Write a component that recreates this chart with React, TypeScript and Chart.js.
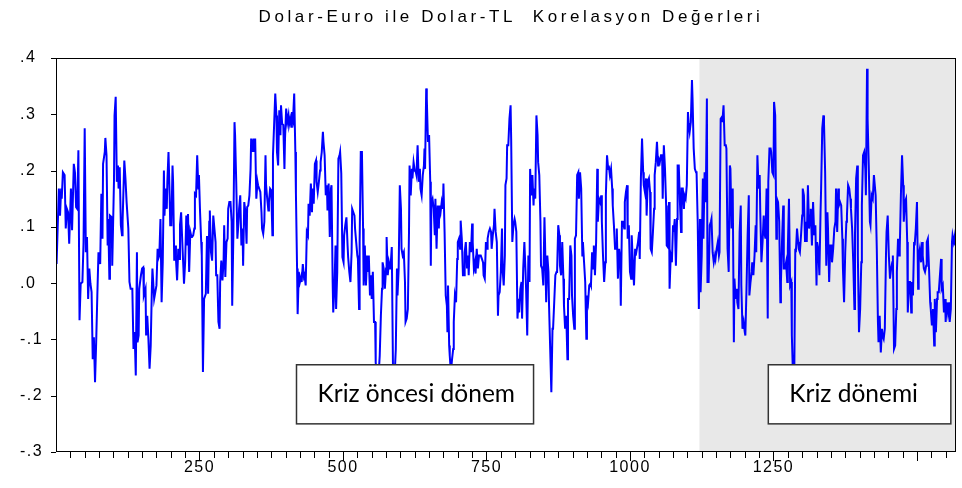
import React, { useEffect, useRef } from 'react';
import { Chart, registerables } from 'chart.js';

Chart.register(...registerables);

// ---- text ----
const TITLE = 'Dolar-Euro ile Dolar-TL  Korelasyon Değerleri';
const PRE_CRISIS_LABEL = 'Kriz öncesi dönem';
const CRISIS_LABEL = 'Kriz dönemi';

// ---- axes ----
const X_MIN = 0;
const X_MAX = 1568;
const X_LABEL_STEP = 250;
const X_MINOR_STEP = 25;
const Y_MIN = -0.3;
const Y_MAX = 0.4;
const Y_STEP = 0.1;

// ---- periods (observation numbers / correlation values) ----
const CRISIS_START_OBS = 1121;
const PRE_CRISIS_BOX = [419, 832, -0.145, -0.25]; // obs from, obs to, value top, value bottom
const CRISIS_BOX = [1241, 1559, -0.145, -0.25];

const seg01: [number, number][] = [[1,.034],[5,.168],[7,.120],[9,.168],[10,.150],[12,.197],[15,.192],[17,.097],[19,.132],[21,.126],[23,.070],[26,.168],[28,.094],[31,.212],[33,.197],[35,.135],[37,.132],[39,.236],[41,-.066],[43,-.001],[46,.002],[48,.073],[50,.275],[52,.055],[54,.082],[56,-.028],[58,.026],[60,-.001],[62,-.016],[64,-.135],[66,-.096],[68,-.176],[70,-.105],[72,-.022],[74,.055],[75,.049],[77,.034],[79,.159],[81,.079],[82,.212],[85,.233],[86,.258],[88,.227],[90,.067],[91,.114],[93,.008],[94,.120],[97,.117],[98,.031],[101,.180],[102,.298],[104,.331],[106,.180],[108,.209],[109,.168],[111,.206],[113,.103],[115,.085],[116,.109],[119,.218],[121,.186],[123,.144],[126,.097],[128,.002],[130,-.010]];
const seg02: [number, number][] = [[133,-.010],[135,-.117],[137,-.087],[139,-.164],[141,.055],[142,-.105],[144,-.093],[145,-.010],[148,.014],[150,.026],[152,.028],[153,-.022],[156,-.010],[157,-.093],[159,-.058],[161,-.099],[163,-.152],[165,-.111],[167,-.010],[168,.026],[171,-.028],[172,-.028],[175,-.004],[177,.061],[178,.043],[180,.049],[182,.114],[184,-.034],[186,.037],[188,.200],[189,.120],[191,.168],[193,.132],[194,.180],[196,.233],[198,.156],[199,.103],[201,.103],[203,.209],[204,.180],[206,.040],[208,.067],[209,.043],[211,.005],[213,.061],[215,.043],[216,.103],[218,.126],[220,.073],[222,.026],[223,-.001],[225,.037],[227,.120],[229,.067],[230,.123],[232,.020],[234,.091],[236,.082],[237,.082],[239,.085],[241,.097],[242,.159],[244,.156],[246,.227],[248,.168],[249,.192],[251,.126],[253,.073],[254,.049],[256,-.158],[258,-.028],[259,-.028],[261,-.019],[263,.082]];
const seg03: [number, number][] = [[264,.082],[265,-.019],[267,.109],[268,.129],[270,.055],[272,.040],[274,.120],[275,.120],[278,.073],[279,.014],[281,.014],[283,-.069],[285,-.081],[286,.002],[288,.040],[290,.005],[292,.040],[293,.103],[295,.011],[297,.073],[299,.079],[300,.132],[302,.144],[304,.144],[306,.109],[307,-.040],[309,.085],[311,.286],[312,.263],[314,.180],[316,.079],[318,.109],[319,.132],[321,.156],[323,.067],[325,.097],[326,.031],[328,.144],[330,.126],[332,.070],[333,.135],[335,.138],[337,.156],[339,.203],[340,.257],[342,.233],[344,.257],[345,.233],[347,.257],[349,.150],[351,.180],[352,.174],[354,.168],[356,.162],[358,.126],[359,.097],[361,.088],[363,.109],[365,.227],[366,.174],[368,.150],[370,.129],[371,.144],[373,.168],[375,.165],[377,.085],[378,.227],[380,.281],[382,.337],[384,.298],[385,.233],[387,.209],[389,.307],[391,.263],[392,.316],[394,.283]];
const seg04: [number, number][] = [[396,.281],[398,.203],[399,.257],[401,.310],[403,.286],[405,.298],[406,.281],[408,.292],[410,.278],[411,.304],[413,.292],[415,.337],[417,.233],[418,.159],[420,.026],[421,-.055],[423,.020],[425,.002],[427,.011],[428,.002],[430,.034],[432,.011],[433,.014],[435,-.004],[437,.091],[439,.085],[440,.141],[442,.120],[444,.177],[446,.126],[447,.168],[449,.141],[451,.212],[453,.218],[454,.180],[456,.162],[458,.180],[460,.200],[461,.215],[463,.233],[465,.269],[466,.251],[468,.227],[470,.156],[472,.174],[473,.129],[475,.177],[477,.082],[479,.168],[480,.174],[482,.002],[483,-.052],[485,-.010],[487,.067],[488,-.046],[490,.020],[492,.221],[494,.227],[495,.233],[497,.195],[499,.046],[501,.037],[502,.085],[504,.103],[506,.117],[508,.067],[509,.046],[511,.020],[513,.002],[515,.055],[516,.132],[518,.126],[520,.120],[521,.097],[523,.073],[525,.049]];
const seg05: [number, number][] = [[526,.043],[528,-.046],[529,.073],[531,.233],[533,.233],[535,.097],[536,-.004],[538,.067],[540,-.004],[542,.049],[543,.020],[545,.049],[547,-.022],[549,.014],[550,-.028],[552,.020],[554,-.069],[556,-.069],[557,-.141],[559,-.164],[561,-.182],[562,-.164],[564,-.129],[566,-.058],[568,-.010],[569,.037],[571,.026],[573,-.010],[575,.026],[576,.082],[578,.014],[580,.037],[582,.026],[583,.031],[585,.064],[587,-.141],[588,-.188],[590,-.164],[592,-.117],[594,.026],[595,-.022],[597,.026],[599,.174],[601,.132],[602,.061],[604,.049],[606,.055],[608,.002],[609,-.069],[611,-.063],[613,-.046],[615,.091],[616,.209],[618,.156],[620,.203],[621,.186],[623,.215],[625,.200],[627,.197],[628,.192],[630,.245],[632,.180],[634,.203],[635,.168],[637,.156],[639,.192],[641,.209],[642,.239],[643,.203],[645,.346],[646,.328],[648,.251],[650,.263],[652,.180],[653,.031],[654,.144],[656,.150],[658,.132]];
const seg06: [number, number][] = [[660,.085],[661,.150],[663,.061],[665,.138],[667,.097],[668,.138],[670,.126],[672,.144],[674,.132],[675,.177],[677,.091],[679,-.022],[681,-.040],[682,-.087],[683,-.004],[685,-.111],[686,-.129],[688,-.158],[690,-.135],[692,-.117],[693,-.069],[695,-.022],[697,-.034],[699,.043],[700,.073],[702,.079],[704,.061],[705,.111],[707,.079],[709,.014],[711,.014],[712,.055],[714,.073],[716,.026],[718,.049],[719,.014],[721,.073],[723,.055],[725,.106],[726,.073],[728,.026],[730,.037],[731,.017],[733,.061],[735,.026],[737,.049],[738,.049],[740,.049],[742,.043],[744,.037],[745,.014],[747,.008],[749,.073],[751,.061],[752,.079],[754,.091],[756,.097],[758,.091],[759,.061],[761,.085],[763,.103],[764,.132],[766,.091],[768,.073],[770,-.058],[771,-.022],[773,-.016],[775,.020],[777,.097],[778,.026],[780,-.004],[782,.049],[783,.174],[785,.186],[786,.245],[788,.245],[790,.292]];
const seg07: [number, number][] = [[792,.316],[793,.257],[795,.073],[797,.103],[799,.114],[800,.109],[802,.091],[804,-.063],[806,-.028],[807,-.052],[809,-.010],[811,.002],[812,-.063],[814,.026],[816,.073],[818,.020],[819,-.010],[821,-.093],[823,.049],[825,.002],[826,.203],[828,.156],[830,.192],[832,.138],[833,.168],[835,.150],[837,.298],[839,.263],[840,.215],[842,.192],[844,.109],[845,.031],[847,.026],[849,-.004],[851,.117],[852,.073],[854,-.034],[856,.049],[858,.020],[859,-.040],[861,-.117],[863,-.194],[865,-.081],[866,-.081],[868,-.034],[870,.014],[872,.020],[873,.020],[875,.103],[877,.085],[878,.031],[880,.014],[882,.073],[884,.008],[885,-.040],[887,-.081],[889,-.058],[891,-.135],[892,-.028],[894,-.028],[896,.067],[898,.049],[899,-.022],[901,-.058],[903,-.081],[904,.079],[906,.085],[908,.192],[910,.197],[911,.150],[913,.197],[915,.168],[917,.049],[918,.073],[920,.037],[922,.002]];
const seg08: [number, number][] = [[924,-.099],[925,-.022],[927,-.034],[929,-.004],[931,-.001],[932,-.004],[934,.055],[936,.026],[937,.067],[939,.014],[941,.073],[943,.203],[944,.109],[946,.150],[948,.144],[950,.156],[951,.109],[953,.049],[955,.002],[957,.037],[958,.156],[960,.227],[962,.203],[963,.209],[965,.192],[967,.203],[969,.168],[970,.138],[972,.103],[974,.061],[976,.061],[977,.097],[979,.008],[981,.061],[983,.043],[984,-.040],[986,.109],[988,.109],[990,.097],[991,.144],[993,.162],[995,.174],[996,.079],[998,.103],[1000,.020],[1002,.008],[1003,.085],[1005,.037],[1007,-.004],[1009,.061],[1010,.049],[1012,.061],[1014,.073],[1016,.091],[1017,.043],[1019,.186],[1021,.257],[1023,.197],[1024,.174],[1026,.162],[1028,.186],[1029,.120],[1031,.180],[1033,.186],[1035,.162],[1036,.061],[1038,.055],[1040,.091],[1042,.132],[1043,.192],[1045,.215],[1047,.251],[1049,.209],[1050,.221],[1052,.215],[1054,.227]];
const seg09: [number, number][] = [[1056,.227],[1057,.150],[1059,.245],[1061,.203],[1063,.138],[1064,.067],[1066,.064],[1068,.144],[1069,-.010],[1071,.049],[1073,.037],[1075,.103],[1076,.091],[1078,.114],[1080,.031],[1082,.114],[1083,.209],[1085,.209],[1087,.144],[1089,.091],[1090,.168],[1092,.168],[1094,.132],[1095,.156],[1097,.150],[1099,.174],[1101,.304],[1102,.286],[1104,.269],[1106,.286],[1108,.361],[1109,.328],[1111,.239],[1113,.203],[1115,.197],[1116,.197],[1118,.109],[1120,-.046],[1122,.114],[1123,-.016],[1125,.049],[1127,.186],[1128,.079],[1130,.197],[1132,.144],[1134,.328],[1135,.002],[1137,.002],[1139,.103],[1141,.109],[1142,.114],[1144,.055],[1146,.037],[1148,.049],[1149,.043],[1151,.061],[1153,.073],[1155,.049],[1156,.055],[1158,.292],[1160,.295],[1161,.286],[1163,.316],[1165,.245],[1167,.245],[1168,.239],[1170,.061],[1172,.020],[1174,.209],[1175,.203],[1177,.097],[1179,.168],[1181,-.105],[1182,.008],[1184,-.028]];
const seg10: [number, number][] = [[1186,-.010],[1187,-.034],[1189,-.046],[1191,.091],[1193,.138],[1194,-.004],[1196,-.081],[1198,-.069],[1200,-.087],[1201,-.093],[1203,-.010],[1205,.085],[1207,.156],[1208,-.022],[1210,.002],[1212,.020],[1213,.037],[1215,.014],[1217,.049],[1219,.103],[1220,.055],[1222,.227],[1224,.168],[1226,.192],[1227,.126],[1229,.037],[1231,.073],[1233,.120],[1234,.091],[1236,.079],[1238,.168],[1240,-.063],[1241,.180],[1243,.239],[1245,.239],[1246,.233],[1248,.197],[1250,.192],[1251,.322],[1253,.298],[1255,.079],[1256,.150],[1258,.144],[1260,.109],[1262,-.034],[1263,.002],[1265,.079],[1267,.138],[1268,.026],[1270,.026],[1272,.037],[1274,.002],[1275,.061],[1277,.150],[1279,-.004],[1281,.002],[1282,-.093],[1284,-.164],[1286,-.194],[1288,.061],[1289,.055],[1291,.097],[1293,.073],[1294,.061],[1296,.055],[1298,.085],[1300,.120],[1301,.168],[1303,.156],[1305,.073],[1307,.109],[1308,.073],[1310,.174],[1312,.097],[1314,.120],[1315,.132],[1317,.067]];
const seg11: [number, number][] = [[1319,.144],[1321,.085],[1323,.103],[1325,-.004],[1326,.073],[1328,.061],[1330,.014],[1332,.126],[1333,.168],[1335,.275],[1337,.298],[1338,.286],[1340,.197],[1342,.031],[1344,.126],[1345,.097],[1347,.002],[1349,.067],[1351,.067],[1352,.037],[1354,.061],[1356,.097],[1358,.109],[1359,.168],[1361,.091],[1363,.168],[1364,.138],[1366,.144],[1368,.138],[1370,.079],[1371,.026],[1373,-.034],[1375,.055],[1377,.109],[1378,.120],[1380,.174],[1382,.168],[1384,.150],[1385,.132],[1387,.097],[1389,.037],[1391,-.046],[1392,.085],[1394,.186],[1396,.209],[1397,.049],[1399,-.087],[1401,-.046],[1403,.037],[1404,.138],[1406,.227],[1408,.233],[1410,.203],[1411,.156],[1413,.381],[1414,.292],[1416,.209],[1418,.109],[1419,.103],[1421,.156],[1423,.150],[1425,.192],[1426,.180],[1428,.156],[1430,.061],[1432,-.069],[1433,-.105],[1435,-.058],[1437,-.123],[1439,-.081],[1440,-.093],[1442,-.099],[1444,-.081],[1446,.049],[1447,.091],[1449,.120]];
const seg12: [number, number][] = [[1451,.049],[1453,.008],[1455,.026],[1457,.037],[1458,.049],[1460,-.117],[1462,-.111],[1464,-.046],[1465,.020],[1467,.079],[1469,.049],[1470,.061],[1472,.156],[1474,.227],[1476,.174],[1477,.109],[1479,.144],[1481,.150],[1483,.073],[1484,-.052],[1486,.002],[1488,.002],[1490,-.052],[1491,.002],[1493,-.022],[1495,.073],[1496,.067],[1498,.097],[1500,.144],[1502,-.010],[1503,.049],[1505,.061],[1507,.037],[1509,.073],[1510,.049],[1512,.026],[1514,.020],[1516,.031],[1517,.073],[1519,.079],[1521,.026],[1523,-.034],[1524,-.046],[1526,-.075],[1528,-.046],[1530,-.111],[1531,-.028],[1533,-.087],[1535,-.028],[1536,-.016],[1538,-.016],[1540,.014],[1542,.043],[1543,-.010],[1545,-.004],[1547,-.052],[1549,-.028],[1550,-.069],[1552,-.034],[1554,-.052],[1556,-.034],[1557,-.069],[1559,-.046],[1561,.073],[1562,.085],[1564,.073],[1566,.085],[1567,.067]];

const SERIES = [seg01, seg02, seg03, seg04, seg05, seg06, seg07, seg08, seg09, seg10, seg11, seg12];

// ---- styles ----
const LINE_COLOR = '#0000FF';
const SHADE_COLOR = '#E8E8E8';
const AXIS_FONT = 'Arial, "Liberation Sans", sans-serif';
const AXIS_SPACING = '1.5px';
const TITLE_SPACING = '3.6px';
const BOX_FONT = 'Lato, "Open Sans", sans-serif';

const fmtY = (v: number) => {
  const s = (Math.round(v * 10) / 10).toFixed(1);
  return s.replace('0.', '.');
};

const decorPlugin = {
  id: 'decor',
  beforeDraw(chart: any) {
    (chart.ctx as any).letterSpacing = AXIS_SPACING;
  },
  beforeDatasetsDraw(chart: any) {
    const { ctx, chartArea: a, scales } = chart;
    const xs = scales.x.getPixelForValue(CRISIS_START_OBS);
    ctx.save();
    ctx.fillStyle = SHADE_COLOR;
    ctx.fillRect(xs, a.top, a.right - xs, a.bottom - a.top);
    ctx.restore();
  },
  afterDatasetsDraw(chart: any) {
    const { ctx, chartArea: a, scales } = chart;
    const { x, y } = scales;
    ctx.save();
    (ctx as any).letterSpacing = '0px';
    const boxes: [number[], string][] = [[PRE_CRISIS_BOX, PRE_CRISIS_LABEL], [CRISIS_BOX, CRISIS_LABEL]];
    for (const [b, label] of boxes) {
      const x0 = x.getPixelForValue(b[0]);
      const x1 = x.getPixelForValue(b[1]);
      const y0 = y.getPixelForValue(b[2]);
      const y1 = y.getPixelForValue(b[3]);
      ctx.fillStyle = '#FFFFFF';
      ctx.fillRect(x0, y0, x1 - x0, y1 - y0);
      ctx.strokeStyle = '#333333';
      ctx.lineWidth = 1.5;
      ctx.strokeRect(x0, y0, x1 - x0, y1 - y0);
      ctx.fillStyle = '#000000';
      ctx.font = `24.5px ${BOX_FONT}`;
      ctx.textAlign = 'left';
      ctx.textBaseline = 'alphabetic';
      ctx.fillText(label, x0 + 21, y0 + 37);
    }
    ctx.strokeStyle = '#000000';
    ctx.lineWidth = 1;
    ctx.strokeRect(a.left + 0.5, a.top + 0.5, a.right - a.left - 1, a.bottom - a.top - 1);
    ctx.restore();
  },
  afterDraw(chart: any) {
    const { ctx, chartArea: a, scales } = chart;
    const { x, y } = scales;
    ctx.save();
    ctx.strokeStyle = '#000000';
    ctx.lineWidth = 1;
    ctx.beginPath();
    for (let v = X_MINOR_STEP; v < X_MAX; v += X_MINOR_STEP) {
      const px = Math.round(x.getPixelForValue(v)) + 0.5;
      const len = v % X_LABEL_STEP === 0 ? 9 : 6;
      ctx.moveTo(px, a.bottom);
      ctx.lineTo(px, a.bottom + len);
    }
    for (let i = 0; i <= Math.round((Y_MAX - Y_MIN) / Y_STEP); i++) {
      const v = Y_MIN + i * Y_STEP;
      const py = Math.round(y.getPixelForValue(v)) + 0.5;
      ctx.moveTo(a.left - 5, py);
      ctx.lineTo(a.left, py);
    }
    ctx.stroke();
    (ctx as any).letterSpacing = TITLE_SPACING;
    ctx.fillStyle = '#000000';
    ctx.font = `17px ${AXIS_FONT}`;
    ctx.textAlign = 'center';
    ctx.textBaseline = 'middle';
    ctx.fillText(TITLE, 511, 17);
    ctx.restore();
  },
};

export default function App() {
  const ref = useRef<HTMLCanvasElement | null>(null);
  useEffect(() => {
    if (!ref.current) return;
    const points = SERIES.flat().map(([o, c]) => ({ x: o, y: c }));
    const chart = new Chart(ref.current, {
      type: 'line',
      data: {
        datasets: [
          {
            label: TITLE,
            data: points,
            borderColor: LINE_COLOR,
            borderWidth: 2,
            pointRadius: 0,
            tension: 0,
            fill: false,
          },
        ],
      },
      options: {
        animation: false,
        responsive: false,
        devicePixelRatio: 1,
        parsing: false as any,
        layout: { padding: { left: 20, top: 58, right: 2, bottom: 0 } },
        plugins: {
          legend: { display: false },
          tooltip: { enabled: false },
          title: { display: false },
        },
        scales: {
          x: {
            type: 'linear',
            min: X_MIN,
            max: X_MAX,
            grid: { display: false, drawTicks: false },
            border: { display: false },
            afterFit: (s: any) => { s.height = 36; },
            ticks: {
              stepSize: X_LABEL_STEP,
              autoSkip: false,
              maxRotation: 0,
              padding: 6,
              color: '#000000',
              font: { family: AXIS_FONT, size: 16 },
              callback: (v: any) => (Number(v) > 0 && Number(v) % X_LABEL_STEP === 0 ? String(v) : ''),
            },
          },
          y: {
            type: 'linear',
            min: Y_MIN,
            max: Y_MAX,
            grid: { display: false, drawTicks: false },
            border: { display: false },
            afterFit: (s: any) => { s.width = 36; },
            ticks: {
              stepSize: Y_STEP,
              crossAlign: 'far',
              padding: 0,
              color: '#000000',
              font: { family: AXIS_FONT, size: 16 },
              callback: (v: any) => fmtY(Number(v)),
            },
          },
        },
      },
      plugins: [decorPlugin],
    });
    return () => chart.destroy();
  }, []);
  return (
    <div style={{ position: 'absolute', left: 0, top: 0, width: 962, height: 488, background: '#FFFFFF' }}>
      <canvas ref={ref} width={962} height={488} style={{ display: 'block', width: 962, height: 488 }} />
    </div>
  );
}
